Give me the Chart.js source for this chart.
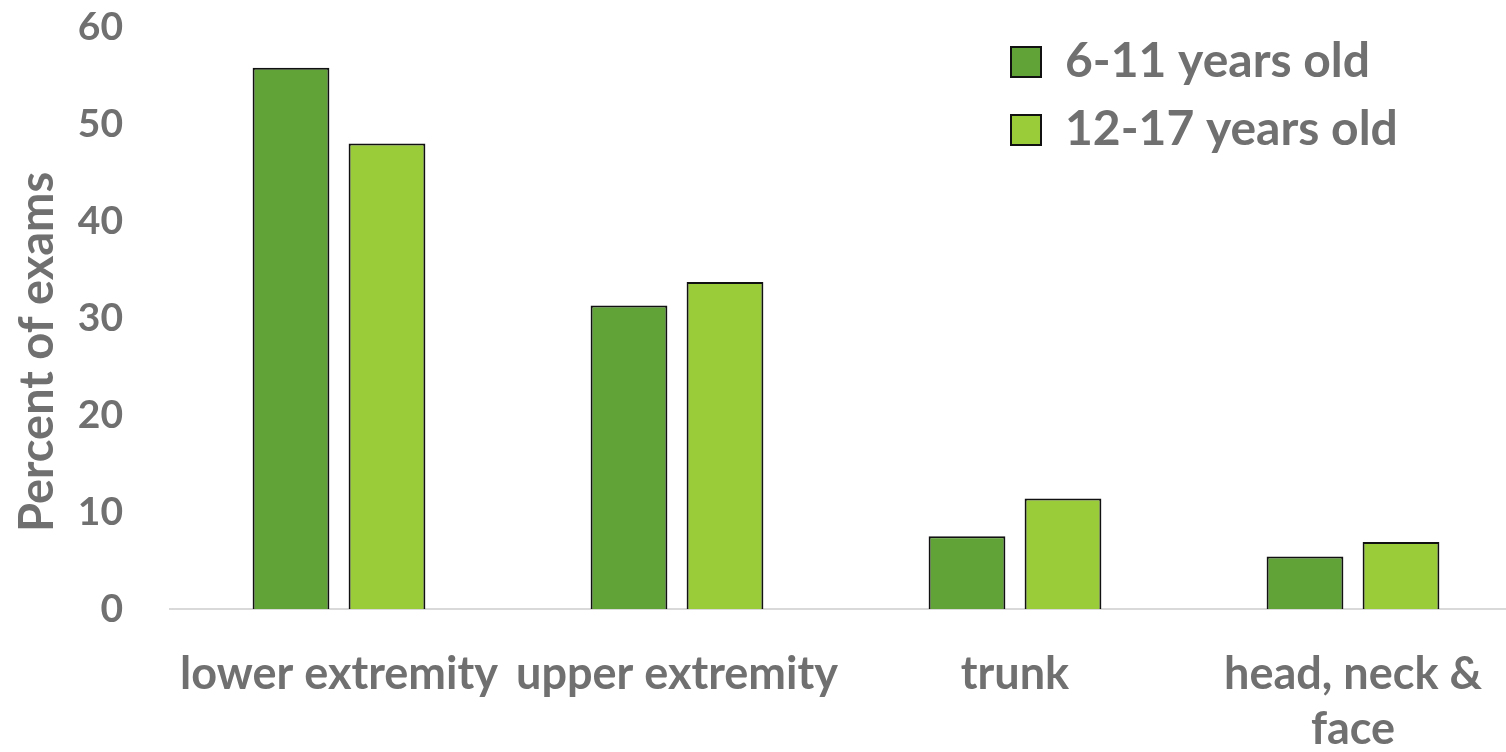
<!DOCTYPE html>
<html>
<head>
<meta charset="utf-8">
<script src="https://cdn.jsdelivr.net/npm/chart.js@4.4.1/dist/chart.umd.min.js"></script>
<style>
  html, body { margin: 0; padding: 0; background: #fff; overflow: hidden; }
  /* plot runs a little past the right edge, like the cropped original */
  #wrap { width: 1522px; height: 752px; position: relative; }
</style>
</head>
<body>
<div id="wrap"><canvas id="injuryChart"></canvas></div>
<script>
// Chart data
const categories = ['lower extremity', 'upper extremity', 'trunk', ['head, neck &', 'face']];
const seriesNames = ['6-11 years old', '12-17 years old'];
const youngerValues = [55.8, 31.3, 7.5, 5.4];
const olderValues = [48.0, 33.7, 11.4, 6.9];
const yTicks = [0, 10, 20, 30, 40, 50, 60];

const textGray = '#707070';
const fontFamily = "Lato, 'Open Sans', sans-serif";

// Legend goes in the top right corner of the plot,
// and the y title sits a bit lower than the middle
const placeBoxes = {
    id: 'placeBoxes',
    afterLayout: function (chart) {
        const lg = chart.legend;
        if (lg) {
            const w = lg.width;
            lg.left = chart.chartArea.right - 531;
            lg.right = lg.left + w;
            lg.top = chart.chartArea.top - 9;
        }
        const ys = chart.scales.y;
        ys.bottom += 68;
    }
};

document.addEventListener('DOMContentLoaded', function () {
    const ctx = document.getElementById('injuryChart');

    new Chart(ctx, {
        type: 'bar',
        data: {
            labels: categories,
            datasets: [
                {
                    label: seriesNames[0],
                    data: youngerValues,
                    backgroundColor: '#62A337',
                    borderColor: '#111111',
                    borderWidth: 2
                },
                {
                    label: seriesNames[1],
                    data: olderValues,
                    backgroundColor: '#9ACB38',
                    borderColor: '#111111',
                    borderWidth: 2
                }
            ]
        },
        plugins: [placeBoxes],
        options: {
            responsive: true,
            maintainAspectRatio: false,
            animation: false,
            categoryPercentage: 0.568,
            barPercentage: 0.8,
            layout: {
                padding: { top: 27, right: 0, bottom: -5, left: 10 }
            },
            plugins: {
                legend: {
                    position: 'chartArea',
                    fullSize: false,
                    align: 'start',
                    labels: {
                        color: textGray,
                        font: { family: fontFamily, size: 48, weight: 'bold' },
                        boxWidth: 30,
                        boxHeight: 30,
                        padding: 20
                    }
                },
                tooltip: { enabled: false }
            },
            scales: {
                x: {
                    grid: { display: false, drawTicks: false },
                    border: { color: '#d9d9d9', width: 2 },
                    ticks: {
                        color: textGray,
                        padding: 38,
                        maxRotation: 0,
                        autoSkip: false,
                        font: { family: fontFamily, size: 45, weight: 'bold', lineHeight: 1.222 }
                    },
                    afterFit: function (axis) {
                        // tick padding is counted twice by default
                        axis.height = 38 + 110;
                        axis.paddingLeft = 0;
                        axis.paddingRight = 0;
                    }
                },
                y: {
                    min: 0,
                    max: 60,
                    afterBuildTicks: function (axis) {
                        axis.ticks = yTicks.map(v => ({ value: v }));
                    },
                    afterFit: function (axis) {
                        axis.width = 160;
                        axis.paddingTop = 0;
                        axis.paddingBottom = 0;
                    },
                    grid: { display: false, drawTicks: false },
                    border: { display: false },
                    ticks: {
                        color: textGray,
                        padding: 47,
                        font: { family: fontFamily, size: 39, weight: 'bold' }
                    },
                    title: {
                        display: true,
                        text: 'Percent of exams',
                        color: textGray,
                        padding: 0,
                        font: { family: fontFamily, size: 47, weight: 'bold' }
                    }
                }
            }
        }
    });
});
</script>
</body>
</html>
